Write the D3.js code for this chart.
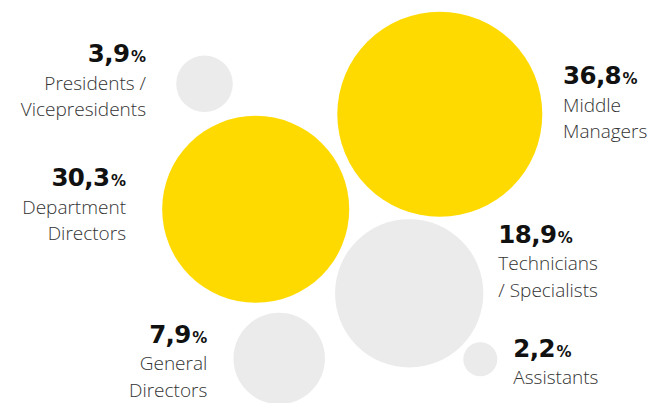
<!DOCTYPE html>
<html>
<head>
<meta charset="utf-8">
<script src="https://cdn.jsdelivr.net/npm/d3@7"></script>
<style>
  html, body { margin: 0; padding: 0; background: #fff; }
  svg { display: block; }
  .value { font-family: "DejaVu Sans", sans-serif; font-weight: 700; fill: #111; }
  .label { font-family: "Open Sans", sans-serif; font-weight: 300; fill: #333; }
</style>
</head>
<body>
<svg id="chart"></svg>
<script>
// Share of respondents by job level
const categories = [
  "Presidents / Vicepresidents",
  "Middle Managers",
  "Department Directors",
  "Technicians / Specialists",
  "General Directors",
  "Assistants"
];
const shares = [3.9, 36.8, 30.3, 18.9, 7.9, 2.2];
const labelLines = [
  ["Presidents /", "Vicepresidents"],
  ["Middle", "Managers"],
  ["Department", "Directors"],
  ["Technicians", "/ Specialists"],
  ["General", "Directors"],
  ["Assistants"]
];

// Hand-placed bubble layout (design units) and label anchors
const layout = [
  { cx: 204.5, cy: 83.8,  side: "left",  lx: 146,   ly: 62 },
  { cx: 439.8, cy: 114.2, side: "right", lx: 563,   ly: 84 },
  { cx: 255.7, cy: 209.3, side: "left",  lx: 126,   ly: 186 },
  { cx: 409.2, cy: 293.3, side: "right", lx: 498.3, ly: 242.7 },
  { cx: 279.2, cy: 358.5, side: "left",  lx: 207.3, ly: 342.5 },
  { cx: 480.3, cy: 359.2, side: "right", lx: 513.3, ly: 356.7 }
];

const width = 655, height = 403;
const svg = d3.select("#chart").attr("width", width).attr("height", height);

const x = d3.scaleLinear().domain([0, 655]).range([0, width]);
const y = d3.scaleLinear().domain([0, 403]).range([0, height]);
const r = d3.scalePow().exponent(0.35).domain(d3.extent(shares)).range([17, 102.5]);
const color = v => v > 25 ? "#FFDA00" : "#EBEBEB";

const locale = d3.formatLocale({ decimal: ",", thousands: ".", grouping: [3], currency: ["", "€"] });
const fmt = locale.format(".1f");

const data = categories.map((c, i) => ({ category: c, share: shares[i], lines: labelLines[i], ...layout[i] }));

svg.append("g").selectAll("circle")
  .data(data)
  .join("circle")
  .attr("cx", d => x(d.cx))
  .attr("cy", d => y(d.cy))
  .attr("r", d => r(d.share))
  .attr("fill", d => color(d.share));

const labels = svg.append("g").selectAll("g")
  .data(data)
  .join("g")
  .attr("transform", d => `translate(${x(d.lx)},${y(d.ly)})`);

const valueText = labels.append("text")
  .attr("class", "value")
  .attr("text-anchor", d => d.side === "left" ? "end" : "start");
valueText.append("tspan").attr("font-size", 24.5).attr("letter-spacing", -0.6).text(d => fmt(d.share));
valueText.append("tspan").attr("font-size", 15).attr("dx", 1.5).text("%");

labels.each(function(d) {
  const t = d3.select(this).append("text")
    .attr("class", "label")
    .attr("font-size", 19)
    .attr("text-anchor", d.side === "left" ? "end" : "start");
  d.lines.forEach((line, k) => {
    t.append("tspan").attr("x", 0).attr("y", 27.5 + k * 26.5).text(line);
  });
});
</script>
</body>
</html>
